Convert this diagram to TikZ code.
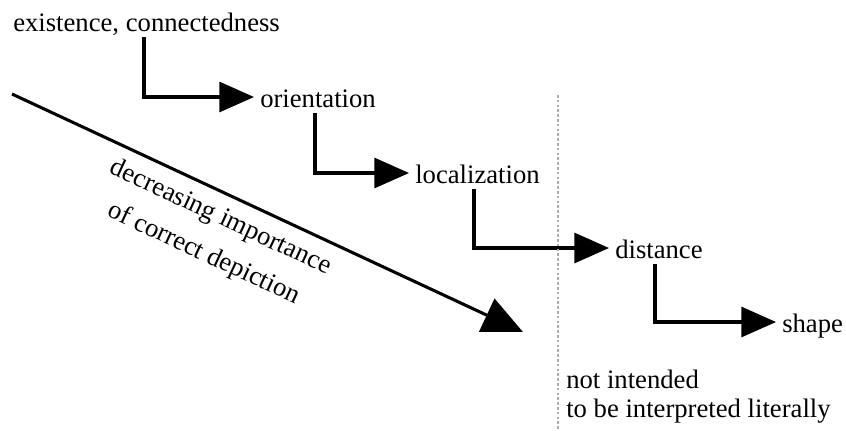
\documentclass[tikz,border=0pt]{standalone}
\usepackage{fontspec}
\setmainfont{Liberation Serif}
\usetikzlibrary{arrows.meta}
\begin{document}
\begin{tikzpicture}[x=0.75pt,y=-0.75pt,
  lbl/.style={font=\fontsize{20}{22}\selectfont, inner xsep=4.5pt, inner ysep=4.5pt, text height=15pt, text depth=0pt, anchor=base west},
  plain/.style={font=\fontsize{20}{22}\selectfont, inner sep=0pt, anchor=base west},
  conn/.style={line width=2.3pt, -{Triangle[length=26pt,width=22.5pt]}},
  bigarrow/.style={line width=2.3pt, -{Triangle[length=30pt,width=27pt]}},
  sep/.style={line width=2pt, gray!65, dash pattern=on 2pt off 1.6pt}]
\useasboundingbox (0,0) rectangle (846,430);
\node[lbl] (exist) at (7,31) {existence, connectedness};
\node[lbl] (orient) at (254,107) {orientation};
\node[lbl] (local) at (409,183) {localization};
\node[lbl] (dist) at (609,258) {distance};
\node[lbl] (shape) at (776,332) {shape};
\draw[conn] (exist.south -| 144,0) |- (orient.west);
\draw[conn] (orient.south -| 315,0) |- (local.west);
\draw[conn] (local.south -| 474,0) |- (dist.west);
\draw[conn] (dist.south -| 655,0) |- (shape.west);
\coordinate (septop) at (558,95);
\coordinate (sepbot) at (558,430);
\draw[sep] (septop) -- (sepbot);
\node[plain] (note1) at (566,388) {not intended};
\node[plain] (note2) at (566,417) {to be interpreted literally};
\coordinate (dstart) at (12,94);
\coordinate (dend) at (523,332);
\draw[bigarrow] (dstart) -- (dend);
\node[font=\fontsize{20}{30}\selectfont, align=center, rotate=-25, inner sep=0pt] (dlabel) at (212,236) {decreasing importance\\of correct depiction};
\end{tikzpicture}
\end{document}
